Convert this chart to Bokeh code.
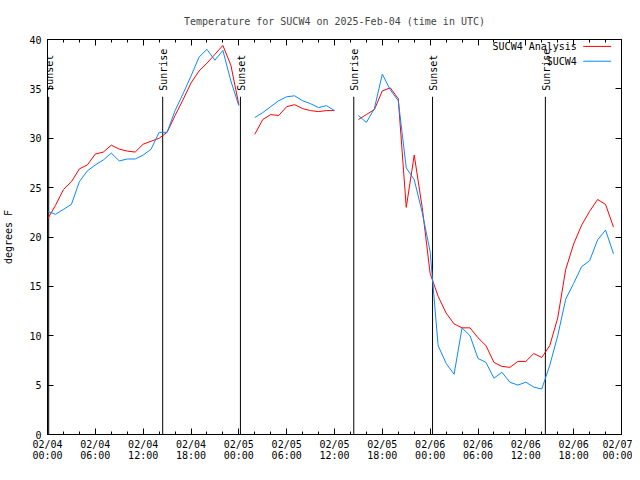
import math
import pandas as pd
from bokeh.plotting import figure
from bokeh.models import (Range1d, FixedTicker, DatetimeTickFormatter, LinearAxis,
                          DatetimeAxis, Label, Arrow, ColumnDataSource,
                          CustomJSTickFormatter)
from bokeh.embed import file_html
from bokeh.resources import INLINE
from bokeh.core.properties import value

nan = float("nan")

# ---------------- data ----------------
start_time = "2025-02-04 00:00"
hours = list(range(72))
analysis_f = [21.8, 23.2, 24.8, 25.6, 26.9, 27.3, 28.4, 28.6, 29.3, 28.9, 28.7, 28.6,
              29.4, 29.7, 30.0, 30.6, 32.3, 33.9, 35.6, 36.8, 37.6, 38.5, 39.4, 37.4,
              33.4, nan, 30.4, 31.9, 32.4, 32.3, 33.2, 33.4, 33.0, 32.8, 32.7, 32.8,
              32.8, nan, nan, 31.9, 32.4, 32.9, 34.8, 35.1, 34.0, 23.0, 28.3, 23.0,
              16.3, 14.0, 12.3, 11.2, 10.8, 10.8, 9.8, 9.0, 7.3, 6.9, 6.8, 7.4,
              7.4, 8.2, 7.8, 9.0, 11.8, 16.7, 19.3, 21.2, 22.6, 23.8, 23.3, 21.0]
observed_f = [22.6, 22.3, 22.8, 23.3, 25.6, 26.7, 27.3, 27.8, 28.5, 27.7, 27.9, 27.9,
              28.3, 28.9, 30.6, 30.6, 32.8, 34.5, 36.3, 38.2, 39.0, 37.9, 38.9, 35.8,
              33.3, nan, 32.1, 32.6, 33.2, 33.8, 34.2, 34.3, 33.8, 33.5, 33.1, 33.3,
              32.8, nan, nan, 32.3, 31.6, 33.0, 36.5, 34.9, 33.8, 27.0, 25.8, 22.5,
              18.5, 9.0, 7.2, 6.1, 10.8, 10.0, 7.7, 7.3, 5.7, 6.3, 5.3, 5.0,
              5.3, 4.8, 4.6, 7.0, 10.0, 13.7, 15.3, 17.0, 17.6, 19.7, 20.7, 18.3]
event_hours = [0.15, 14.45, 24.2, 38.42, 48.3, 62.45]
event_names = ["Sunset", "Sunrise", "Sunset", "Sunrise", "Sunset", "Sunrise"]
x_major_hours = list(range(0, 73, 6))
x_minor_hours = list(range(0, 73, 2))
y_ticks = [0, 5, 10, 15, 20, 25, 30, 35, 40]
series_names = ["SUCW4 Analysis", "SUCW4"]

# ---------------- styles / positions ----------------
FONT = "DejaVu Sans Mono"
FS = "10px"
RED = "#ff0000"
BLUE = "#0a88ff"
EVENT_LINE_TOP = 34.2
EVENT_TEXT_Y = 34.8
# legend placement (in axis units: hours from start, degrees)
LEG_TEXT_RIGHT_H = 66.4
LEG_SAMPLE_H = (67.2, 70.7)
LEG_ROWS_Y = [39.3, 37.8]

t0 = pd.Timestamp(start_time)
MS = 3600 * 1000.0
t0_ms = t0.value / 1e6


def to_time(h):
    return t0 + pd.Timedelta(hours=h)


def to_ms(h):
    return t0_ms + h * MS


src = ColumnDataSource(dict(
    t=[to_time(h) for h in hours],
    analysis=analysis_f,
    observed=observed_f,
))
ev = ColumnDataSource(dict(
    t=[to_time(h) for h in event_hours],
    name=event_names,
    y0=[0] * len(event_hours),
    y1=[EVENT_LINE_TOP] * len(event_hours),
    ty=[EVENT_TEXT_Y] * len(event_hours),
))

p = figure(frame_width=574, frame_height=395, x_axis_type="datetime",
           output_backend="svg", toolbar_location=None,
           x_range=Range1d(to_ms(0), to_ms(72)), y_range=Range1d(0, 40),
           min_border_left=39, min_border_right=11, min_border_top=0,
           min_border_bottom=0)
p.background_fill_color = "white"
p.border_fill_color = "white"
p.outline_line_color = "black"
p.outline_line_width = 1
p.xgrid.visible = False
p.ygrid.visible = False

p.title.text = "Temperature for SUCW4 on 2025-Feb-04 (time in UTC)"
p.title.align = "center"
p.title.text_font = FONT
p.title.text_font_size = FS
p.title.text_font_style = "normal"
p.title.standoff = 26

xt = FixedTicker(ticks=[to_ms(h) for h in x_major_hours],
                 minor_ticks=[to_ms(h) for h in x_minor_hours])
yt = FixedTicker(ticks=y_ticks, minor_ticks=[])
fmt_str = "%m/%d\n%H:%M"
xfmt = DatetimeTickFormatter(milliseconds=fmt_str, seconds=fmt_str, minsec=fmt_str,
                             minutes=fmt_str, hourmin=fmt_str, hours=fmt_str,
                             days=fmt_str, months=fmt_str, years=fmt_str)
blank_fmt = CustomJSTickFormatter(code="return ''")


def style_axis(ax, show_labels=True):
    ax.axis_line_color = "black"
    ax.major_tick_line_color = "black"
    ax.minor_tick_line_color = "black"
    ax.major_tick_in = 6
    ax.major_tick_out = 0
    ax.minor_tick_in = 3
    ax.minor_tick_out = 0
    ax.major_label_text_font = FONT
    ax.major_label_text_font_size = FS
    ax.major_label_text_color = "black"
    if not show_labels:
        ax.major_label_standoff = 0
        ax.axis_label_standoff = 0


xa = p.xaxis[0]
xa.ticker = xt
xa.formatter = xfmt
style_axis(xa)
xa.major_label_standoff = 4
xa.axis_label_standoff = 0
xa.major_label_text_line_height = 1.0

ya = p.yaxis[0]
ya.ticker = yt
style_axis(ya)
ya.major_label_standoff = 6
ya.axis_label = "degrees F"
ya.axis_label_text_font = FONT
ya.axis_label_text_font_size = FS
ya.axis_label_text_font_style = "normal"
ya.axis_label_text_color = "black"
ya.axis_label_standoff = 12

top_ax = DatetimeAxis(ticker=xt, formatter=blank_fmt)
style_axis(top_ax, show_labels=False)
p.add_layout(top_ax, "above")
right_ax = LinearAxis(ticker=yt, formatter=blank_fmt)
style_axis(right_ax, show_labels=False)
p.add_layout(right_ax, "right")

# event markers
p.segment(x0="t", y0="y0", x1="t", y1="y1", source=ev, line_color="black", line_width=1)
p.text(x="t", y="ty", text="name", source=ev, angle=math.pi / 2,
       text_align="left", text_baseline="middle", x_offset=1,
       text_font=value(FONT), text_font_size=FS, text_color="black")

# series
p.line(x="t", y="analysis", source=src, line_color=RED, line_width=1)
p.line(x="t", y="observed", source=src, line_color=BLUE, line_width=1)

# legend (gnuplot style: text, then line sample on its right)
for name, col, yy in zip(series_names, [RED, BLUE], LEG_ROWS_Y):
    p.add_layout(Label(x=to_ms(LEG_TEXT_RIGHT_H), y=yy, text=name,
                       text_align="right", text_baseline="middle",
                       text_font=FONT, text_font_size=FS, text_color="black"))
    p.add_layout(Arrow(x_start=to_ms(LEG_SAMPLE_H[0]), y_start=yy,
                       x_end=to_ms(LEG_SAMPLE_H[1]), y_end=yy,
                       start=None, end=None, line_color=col, line_width=1))

open("out.html", "w").write(file_html(p, INLINE))
